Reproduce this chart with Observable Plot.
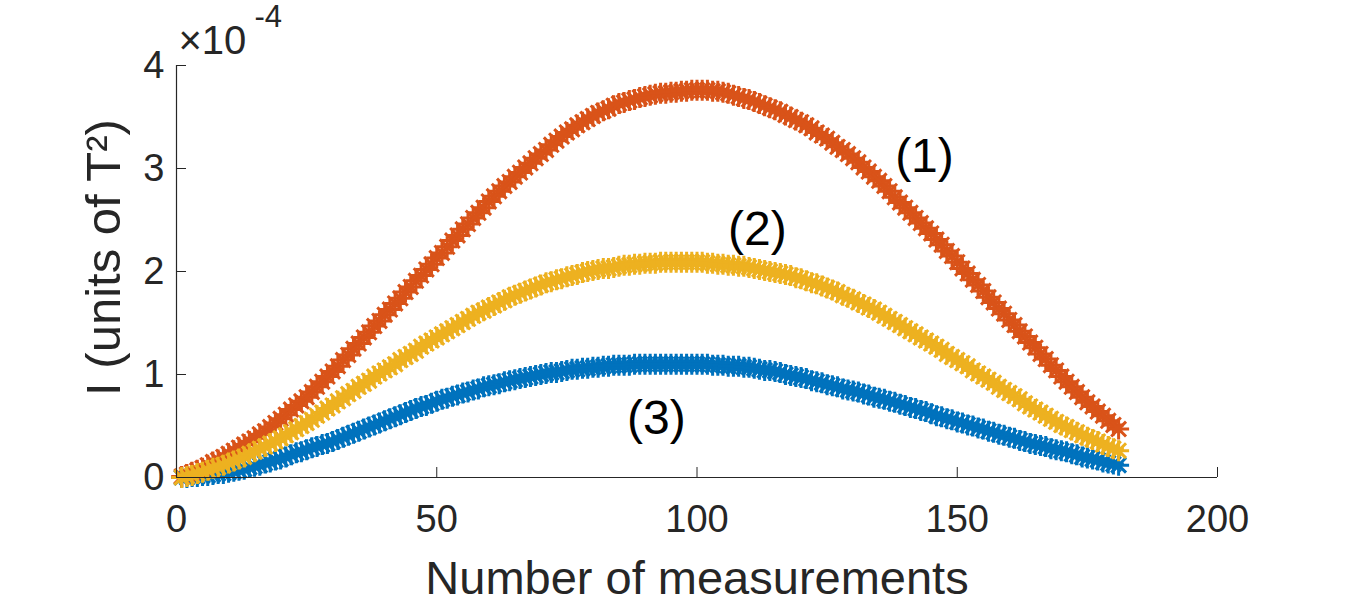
<!DOCTYPE html>
<html><head><meta charset="utf-8">
<script src="https://cdn.jsdelivr.net/npm/d3@7"></script>
<script src="https://cdn.jsdelivr.net/npm/@observablehq/plot@0.6"></script>
<style>
body{margin:0;background:#fff;}
svg{font-family:"Liberation Sans",Arial,Helvetica,sans-serif;}
</style>
</head><body><div id="chart"></div>
<script>
// Measurement numbers (x) 1..181
const measurementNumbers = d3.range(1, 182);

// Series values in units of 1e-4 T^2
const seriesOne = [ // (1) orange
0.01,0.03,0.05,0.07,0.09,0.12,0.15,0.17,0.20,0.23,
0.26,0.29,0.32,0.35,0.38,0.42,0.45,0.49,0.53,0.57,
0.61,0.66,0.70,0.74,0.78,0.83,0.88,0.93,0.98,1.03,
1.08,1.14,1.19,1.25,1.30,1.36,1.41,1.47,1.52,1.58,
1.63,1.69,1.74,1.80,1.85,1.91,1.96,2.02,2.07,2.13,
2.18,2.24,2.30,2.35,2.41,2.46,2.52,2.57,2.62,2.68,
2.73,2.78,2.83,2.87,2.92,2.96,3.01,3.05,3.10,3.14,
3.18,3.23,3.27,3.31,3.35,3.38,3.42,3.45,3.48,3.51,
3.54,3.56,3.58,3.61,3.63,3.64,3.66,3.67,3.69,3.70,
3.71,3.72,3.73,3.73,3.74,3.74,3.75,3.75,3.76,3.76,
3.76,3.76,3.75,3.75,3.74,3.73,3.71,3.70,3.68,3.67,
3.65,3.63,3.61,3.59,3.57,3.55,3.52,3.50,3.47,3.45,
3.42,3.39,3.35,3.32,3.29,3.25,3.21,3.18,3.14,3.10,
3.06,3.01,2.97,2.92,2.88,2.83,2.78,2.72,2.67,2.62,
2.57,2.52,2.47,2.42,2.37,2.31,2.26,2.20,2.15,2.09,
2.03,1.98,1.92,1.87,1.81,1.75,1.70,1.64,1.59,1.53,
1.48,1.42,1.37,1.31,1.26,1.20,1.15,1.09,1.04,0.98,
0.93,0.88,0.83,0.78,0.73,0.69,0.64,0.60,0.55,0.51,
0.47];
const seriesTwo = [ // (2) yellow
0.00,0.01,0.02,0.04,0.05,0.07,0.09,0.10,0.12,0.14,
0.16,0.18,0.20,0.23,0.25,0.28,0.30,0.33,0.35,0.38,
0.41,0.44,0.47,0.50,0.53,0.56,0.60,0.63,0.67,0.70,
0.74,0.77,0.81,0.84,0.88,0.91,0.94,0.98,1.01,1.04,
1.07,1.10,1.14,1.17,1.20,1.23,1.27,1.30,1.33,1.36,
1.39,1.42,1.45,1.48,1.51,1.54,1.57,1.60,1.62,1.65,
1.67,1.70,1.72,1.75,1.77,1.79,1.81,1.83,1.85,1.87,
1.89,1.90,1.92,1.93,1.95,1.96,1.97,1.99,2.00,2.01,
2.02,2.03,2.03,2.04,2.05,2.06,2.06,2.07,2.07,2.08,
2.08,2.08,2.09,2.09,2.09,2.09,2.09,2.09,2.09,2.09,
2.09,2.08,2.08,2.07,2.07,2.06,2.06,2.05,2.05,2.04,
2.03,2.02,2.01,2.00,1.99,1.98,1.97,1.96,1.94,1.93,
1.91,1.89,1.88,1.86,1.84,1.82,1.80,1.77,1.75,1.73,
1.70,1.68,1.65,1.63,1.60,1.57,1.54,1.51,1.48,1.45,
1.42,1.39,1.36,1.33,1.30,1.27,1.24,1.20,1.17,1.14,
1.11,1.08,1.04,1.01,0.98,0.95,0.92,0.88,0.85,0.82,
0.79,0.76,0.72,0.69,0.66,0.63,0.60,0.57,0.54,0.51,
0.49,0.46,0.44,0.41,0.39,0.37,0.35,0.32,0.30,0.28,
0.26];
const seriesThree = [ // (3) blue
0.00,0.00,0.01,0.01,0.02,0.02,0.03,0.04,0.04,0.05,
0.06,0.07,0.08,0.10,0.11,0.12,0.14,0.15,0.17,0.18,
0.20,0.22,0.24,0.25,0.27,0.29,0.30,0.32,0.33,0.35,
0.37,0.39,0.41,0.43,0.45,0.47,0.49,0.51,0.53,0.55,
0.57,0.59,0.61,0.63,0.65,0.67,0.69,0.70,0.72,0.74,
0.76,0.77,0.79,0.80,0.82,0.83,0.85,0.86,0.88,0.89,
0.90,0.91,0.93,0.94,0.95,0.96,0.97,0.98,0.99,1.00,
1.01,1.02,1.02,1.03,1.04,1.05,1.05,1.06,1.06,1.07,
1.07,1.08,1.08,1.09,1.09,1.09,1.09,1.10,1.10,1.10,
1.10,1.10,1.10,1.10,1.10,1.10,1.10,1.10,1.10,1.10,
1.10,1.10,1.09,1.09,1.09,1.08,1.08,1.08,1.07,1.07,
1.06,1.05,1.04,1.04,1.03,1.02,1.00,0.99,0.98,0.97,
0.96,0.94,0.93,0.92,0.90,0.89,0.88,0.86,0.85,0.84,
0.83,0.81,0.80,0.78,0.77,0.76,0.74,0.73,0.71,0.70,
0.68,0.67,0.65,0.64,0.62,0.60,0.59,0.57,0.56,0.54,
0.53,0.51,0.50,0.48,0.47,0.45,0.44,0.42,0.41,0.39,
0.38,0.36,0.35,0.33,0.32,0.31,0.30,0.28,0.27,0.26,
0.25,0.23,0.22,0.20,0.19,0.18,0.17,0.15,0.14,0.13,
0.12];

const xTicks = [0, 50, 100, 150, 200];
const yTicks = [0, 1, 2, 3, 4];
const xLabel = "Number of measurements";
const yLabel = "I (units of T\u00B2)";
const exponentBase = "\u00D710";
const exponentPower = "-4";
const curveLabels = ["(1)", "(2)", "(3)"];
const curveLabelX = [143.7, 111.6, 92.2];
const curveLabelY = [3.12, 2.41, 0.57];

const colors = {one: "#D95319", two: "#EDB120", three: "#0072BD"};

const toRows = (vals) => vals.map((v, i) => ({x: measurementNumbers[i], y: v}));
const labelRows = curveLabels.map((t, i) => ({t, x: curveLabelX[i], y: curveLabelY[i]}));

// 8-armed asterisk marker (MATLAB '*'), fixed arm length in px
const markerRadius = 10.5;
const asterisk = {
  draw(ctx) {
    const r = markerRadius, d = r * Math.SQRT1_2;
    ctx.moveTo(-r, 0); ctx.lineTo(r, 0);
    ctx.moveTo(0, -r); ctx.lineTo(0, r);
    ctx.moveTo(-d, -d); ctx.lineTo(d, d);
    ctx.moveTo(-d, d); ctx.lineTo(d, -d);
  }
};

const ink = "#262626";
const dotOpts = (c) => ({x: "x", y: "y", symbol: asterisk, r: 10, stroke: c, strokeWidth: 3, fill: "none"});

const chart = Plot.plot({
  width: 1346, height: 604,
  marginLeft: 176, marginRight: 129, marginTop: 65, marginBottom: 127,
  style: {fontFamily: '"Liberation Sans", Arial, sans-serif', color: ink, background: "#fff", overflow: "visible"},
  x: {domain: [0, 200], label: null, axis: null},
  y: {domain: [0, 4], label: null, axis: null},
  marks: [
    Plot.dot(toRows(seriesThree), dotOpts(colors.three)),
    Plot.dot(toRows(seriesOne), dotOpts(colors.one)),
    Plot.dot(toRows(seriesTwo), dotOpts(colors.two)),
    Plot.ruleY([0], {stroke: ink, strokeWidth: 1.2}),
    Plot.ruleX([0], {stroke: ink, strokeWidth: 1.2}),
    Plot.axisX({ticks: xTicks, tickSize: -10, tickFormat: () => "", label: null, stroke: ink}),
    Plot.axisX({ticks: xTicks, tickSize: 0, tickPadding: 28, tickFormat: d => String(d), fontSize: 38, label: null, fill: ink}),
    Plot.axisY({ticks: yTicks, tickSize: -10, tickFormat: () => "", label: null, stroke: ink}),
    Plot.axisY({ticks: yTicks, tickSize: 0, tickPadding: 12, tickFormat: d => String(d), fontSize: 38, label: null, fill: ink}),
    Plot.text(labelRows, {x: "x", y: "y", text: "t", fontSize: 48, fill: "#000"}),
    Plot.text([xLabel], {text: d => d, frameAnchor: "bottom", lineAnchor: "middle", dy: 101, fontSize: 47, fill: ink}),
    Plot.text([yLabel], {text: d => d, frameAnchor: "left", textAnchor: "middle", lineAnchor: "middle", rotate: -90, dx: -72, dy: -14, fontSize: 49, fill: ink}),
    Plot.text([exponentBase], {text: d => d, frameAnchor: "top-left", textAnchor: "start", lineAnchor: "middle", dx: 2, dy: -24, fontSize: 40, fill: ink}),
    Plot.text([exponentPower], {text: d => d, frameAnchor: "top-left", textAnchor: "start", lineAnchor: "middle", dx: 78, dy: -48, fontSize: 31, fill: ink})
  ]
});
document.getElementById("chart").appendChild(chart);
</script>
</body></html>
